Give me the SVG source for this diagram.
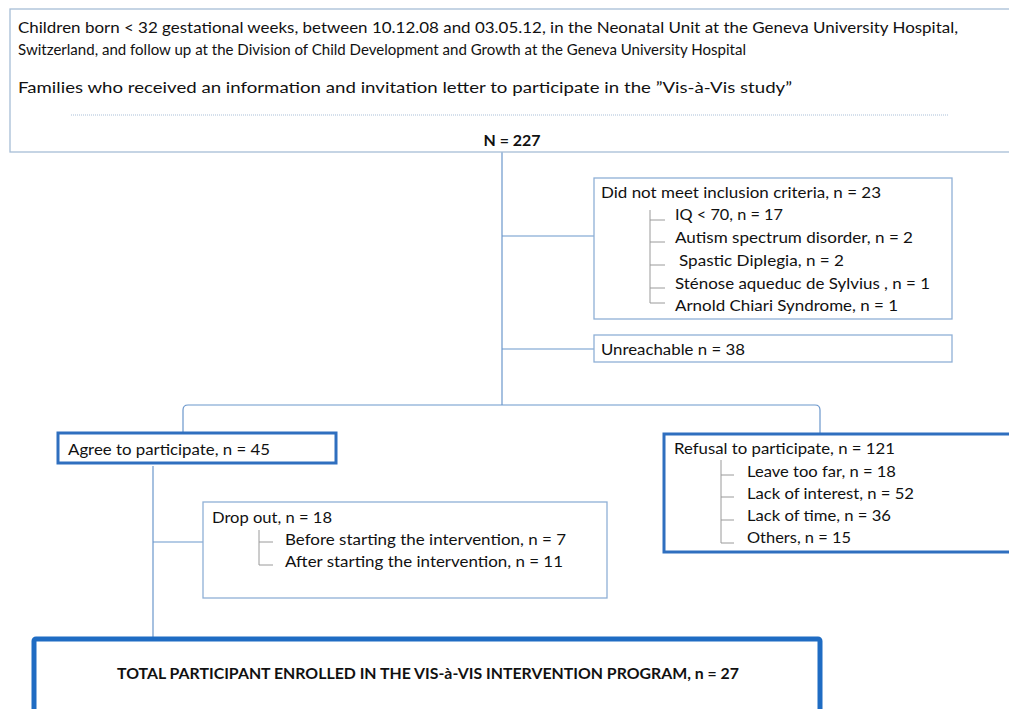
<svg xmlns="http://www.w3.org/2000/svg" width="1009" height="709" viewBox="0 0 1009 709">
<style>
text{font-family:Lato,"Open Sans","Liberation Sans",sans-serif;font-size:16px;fill:#111}
.thin{fill:#fff;stroke:#8fb0d6;stroke-width:1.3}
.thick{fill:#fff;stroke:#2f6fbf;stroke-width:3}
.conn{fill:none;stroke:#6b97cc;stroke-width:1.2}
.tree{fill:none;stroke:#9a9a9a;stroke-width:1}
.b{font-weight:bold}
</style>
<rect width="1009" height="709" fill="#fff"/>
<g id="connectors">
<path class="conn" d="M502,152 L502,405"/>
<path class="conn" d="M502,236 L594,236"/>
<path class="conn" d="M502,349 L594,349"/>
<path class="conn" d="M183,433 L183,410 Q183,405 188,405 L815,405 Q820,405 820,410 L820,433"/>
<path class="conn" d="M153,466 L153,637"/>
<path class="conn" d="M153,542 L203,542"/>
</g>
<g id="source">
<rect class="thin" x="10" y="9" width="1010" height="143" style="stroke:#a7bed6"/>
<text x="18" y="33" textLength="940" lengthAdjust="spacingAndGlyphs">Children born &lt; 32 gestational weeks, between 10.12.08 and 03.05.12, in the Neonatal Unit at the Geneva University Hospital,</text>
<text x="18" y="55" textLength="728" lengthAdjust="spacingAndGlyphs">Switzerland, and follow up at the Division of Child Development and Growth at the Geneva University Hospital</text>
<text x="18" y="93" textLength="774" lengthAdjust="spacingAndGlyphs">Families who received an information and invitation letter to participate in the ”Vis-à-Vis study”</text>
<line x1="71" y1="115" x2="948" y2="115" stroke="#a9bfd8" stroke-width="1" stroke-dasharray="1,1"/>
<text class="b" x="512" y="146" text-anchor="middle" textLength="57" lengthAdjust="spacingAndGlyphs">N = 227</text>
</g>
<g id="excluded">
<rect class="thin" x="594" y="178" width="358" height="141"/>
<text x="601" y="198" textLength="280" lengthAdjust="spacingAndGlyphs">Did not meet inclusion criteria, n = 23</text>
<path class="tree" d="M650,210 L650,303 M650,220 L665,220 M650,242 L665,242 M650,265 L665,265 M650,288 L665,288 M650,303 L665,303"/>
<text x="675" y="220" textLength="108" lengthAdjust="spacingAndGlyphs">IQ &lt; 70, n = 17</text>
<text x="675" y="243" textLength="238" lengthAdjust="spacingAndGlyphs">Autism spectrum disorder, n = 2</text>
<text x="679" y="266" textLength="165" lengthAdjust="spacingAndGlyphs">Spastic Diplegia, n =  2</text>
<text x="675" y="289" textLength="255" lengthAdjust="spacingAndGlyphs">Sténose aqueduc de Sylvius , n = 1</text>
<text x="675" y="311" textLength="223" lengthAdjust="spacingAndGlyphs">Arnold Chiari Syndrome, n = 1</text>
</g>
<g id="unreachable">
<rect class="thin" x="594" y="335" width="358" height="27"/>
<text x="601" y="355" textLength="144" lengthAdjust="spacingAndGlyphs">Unreachable n = 38</text>
</g>
<g id="agree">
<rect class="thick" x="58" y="433" width="278" height="30"/>
<text x="68" y="455" textLength="202" lengthAdjust="spacingAndGlyphs">Agree to participate, n = 45</text>
</g>
<g id="refusal">
<rect class="thick" x="664" y="434" width="360" height="118"/>
<text x="674" y="454" textLength="221" lengthAdjust="spacingAndGlyphs">Refusal to participate, n = 121</text>
<path class="tree" d="M721,460 L721,543 M721,475 L734,475 M721,497 L734,497 M721,520 L734,520 M721,543 L734,543"/>
<text x="747" y="477" textLength="149" lengthAdjust="spacingAndGlyphs">Leave too far, n = 18</text>
<text x="747" y="499" textLength="167" lengthAdjust="spacingAndGlyphs">Lack of interest, n = 52</text>
<text x="747" y="521" textLength="144" lengthAdjust="spacingAndGlyphs">Lack of time, n = 36</text>
<text x="747" y="543" textLength="104" lengthAdjust="spacingAndGlyphs">Others, n = 15</text>
</g>
<g id="dropout">
<rect class="thin" x="203" y="502" width="404" height="96"/>
<text x="212" y="523" textLength="120" lengthAdjust="spacingAndGlyphs">Drop out, n = 18</text>
<path class="tree" d="M259,530 L259,565 M259,542 L273,542 M259,565 L273,565"/>
<text x="285" y="545" textLength="281" lengthAdjust="spacingAndGlyphs">Before starting the intervention, n = 7</text>
<text x="285" y="567" textLength="278" lengthAdjust="spacingAndGlyphs">After starting the intervention, n = 11</text>
</g>
<g id="enrolled">
<rect x="34" y="639" width="786" height="90" fill="#fff" stroke="#1f6cc3" stroke-width="5" rx="2"/>
<text class="b" x="117" y="679" textLength="622" lengthAdjust="spacingAndGlyphs" style="font-size:15.5px">TOTAL PARTICIPANT ENROLLED IN THE VIS-à-VIS INTERVENTION PROGRAM, n = 27</text>
</g>
</svg>
